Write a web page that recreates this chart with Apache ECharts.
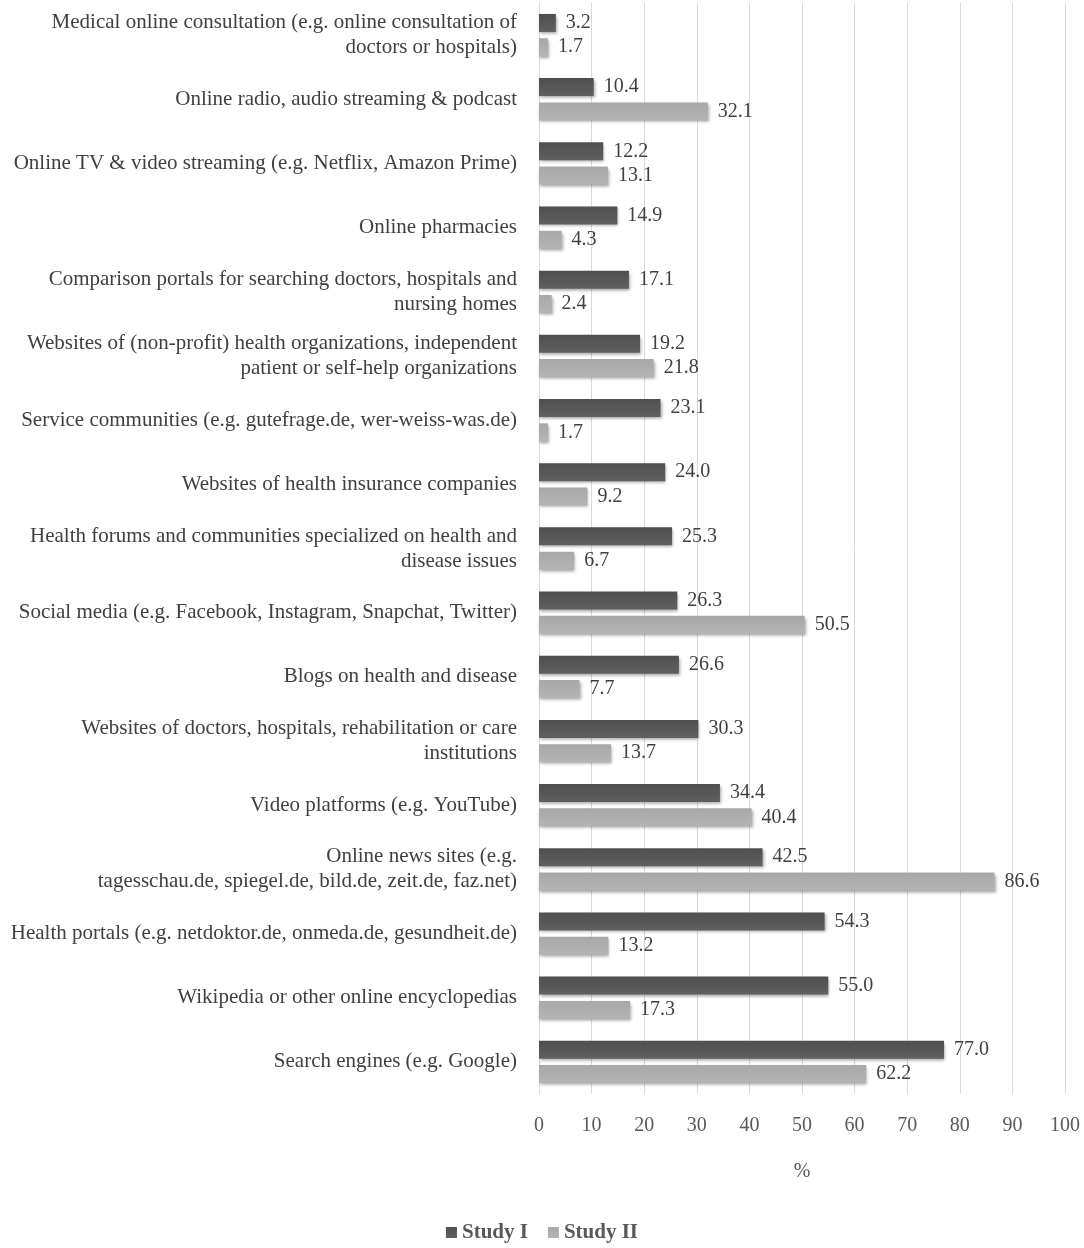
<!DOCTYPE html>
<html>
<head>
<meta charset="utf-8">
<script src="https://cdn.jsdelivr.net/npm/echarts@6/dist/echarts.min.js"></script>
<style>
  html, body { margin: 0; padding: 0; background: #fff; }
  #main { width: 1084px; height: 1248px; }
</style>
</head>
<body>
<div id="main"></div>
<script>
// categories, top to bottom
const categories = [
    'Medical online consultation (e.g. online consultation of\ndoctors or hospitals)',
    'Online radio, audio streaming & podcast',
    'Online TV & video streaming (e.g. Netflix, Amazon Prime)',
    'Online pharmacies',
    'Comparison portals for searching doctors, hospitals and\nnursing homes',
    'Websites of (non-profit) health organizations, independent\npatient or self-help organizations',
    'Service communities (e.g. gutefrage.de, wer-weiss-was.de)',
    'Websites of health insurance companies',
    'Health forums and communities specialized on health and\ndisease issues',
    'Social media (e.g. Facebook, Instagram, Snapchat, Twitter)',
    'Blogs on health and disease',
    'Websites of doctors, hospitals, rehabilitation or care\ninstitutions',
    'Video platforms (e.g. YouTube)',
    'Online news sites (e.g.\ntagesschau.de, spiegel.de, bild.de, zeit.de, faz.net)',
    'Health portals (e.g. netdoktor.de, onmeda.de, gesundheit.de)',
    'Wikipedia or other online encyclopedias',
    'Search engines (e.g. Google)'
]
const study1 = [3.2, 10.4, 12.2, 14.9, 17.1, 19.2, 23.1, 24.0, 25.3, 26.3, 26.6, 30.3, 34.4, 42.5, 54.3, 55.0, 77.0]
const study2 = [1.7, 32.1, 13.1, 4.3, 2.4, 21.8, 1.7, 9.2, 6.7, 50.5, 7.7, 13.7, 40.4, 86.6, 13.2, 17.3, 62.2]
const seriesNames = ['Study I', 'Study II']

const font = '"Liberation Serif", "DejaVu Serif", serif'

function barSeries(name, data, c1, c2) {
    return {
        name: name,
        type: 'bar',
        data: data,
        barWidth: 18,
        barGap: '35%',
        itemStyle: {
            color: {
                type: 'linear', x: 0, y: 0, x2: 0, y2: 1,
                colorStops: [{ offset: 0, color: c1 }, { offset: 1, color: c2 }]
            },
            shadowColor: 'rgba(0,0,0,0.35)',
            shadowBlur: 3,
            shadowOffsetX: 1,
            shadowOffsetY: 2
        },
        label: {
            show: true,
            position: 'right',
            distance: 10,
            color: '#404040',
            fontFamily: font,
            fontSize: 20,
            formatter: p => p.value.toFixed(1)
        }
    }
}

const myChart = echarts.init(document.querySelector('#main'))
const option = {
    backgroundColor: '#fff',
    animation: false,
    grid: { left: 539, right: 19, top: 3, bottom: 154 },
    legend: {
        bottom: 0,
        left: 'center',
        icon: 'rect',
        itemWidth: 11,
        itemHeight: 11,
        itemGap: 20,
        textStyle: { color: '#595959', fontFamily: font, fontSize: 21, fontWeight: 'bold' },
        data: seriesNames
    },
    xAxis: {
        type: 'value',
        min: 0,
        max: 100,
        interval: 10,
        name: '%',
        nameLocation: 'middle',
        nameGap: 68,
        nameTextStyle: { color: '#595959', fontFamily: font, fontSize: 20 },
        axisLine: { show: false },
        axisTick: { show: false },
        axisLabel: { color: '#595959', fontFamily: font, fontSize: 20, margin: 22 },
        splitLine: { show: true, lineStyle: { color: '#d9d9d9', width: 1 } }
    },
    yAxis: {
        type: 'category',
        inverse: true,
        data: categories,
        axisLine: { show: true, lineStyle: { color: '#d9d9d9' } },
        axisTick: { show: false },
        axisLabel: {
            color: '#404040',
            fontFamily: font,
            fontSize: 21,
            lineHeight: 25,
            margin: 22,
            align: 'right'
        }
    },
    series: [
        barSeries(seriesNames[0], study1, '#4f4f4f', '#606060'),
        barSeries(seriesNames[1], study2, '#a8a8a8', '#b4b4b4')
    ]
}
myChart.setOption(option)
</script>
</body>
</html>
